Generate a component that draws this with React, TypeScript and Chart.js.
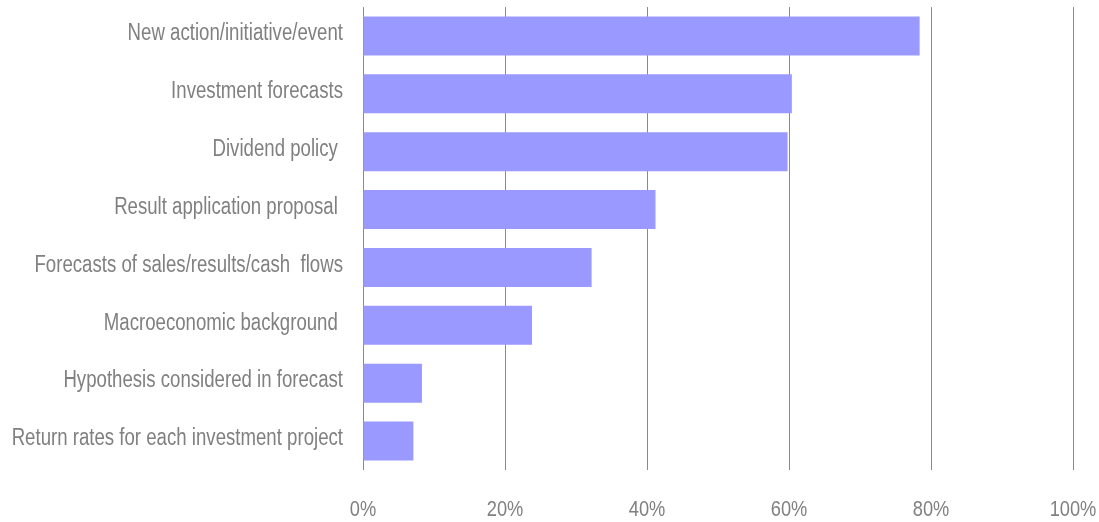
import React, { useEffect, useRef } from "react";
import { Chart, registerables } from "chart.js";

Chart.register(...registerables);

const categories = [
  "New action/initiative/event",
  "Investment forecasts",
  "Dividend policy ",
  "Result application proposal ",
  "Forecasts of sales/results/cash  flows",
  "Macroeconomic background ",
  "Hypothesis considered in forecast",
  "Return rates for each investment project",
];

const values = [78.4, 60.4, 59.8, 41.2, 32.2, 23.8, 8.3, 7.1];

const xTicks = [0, 20, 40, 60, 80, 100];
const xTickLabels = ["0%", "20%", "40%", "60%", "80%", "100%"];

const FONT = "'Liberation Sans', Arial, sans-serif";
const TEXT_COLOR = "#808080";

// Draws axis labels as condensed (narrow) text, like the reference's Arial Narrow look.
const condensedLabels = {
  id: "condensedLabels",
  afterDraw(chart: any) {
    const ctx = chart.ctx as CanvasRenderingContext2D;
    const ys = chart.scales.y;
    const xs = chart.scales.x;
    ctx.save();
    ctx.fillStyle = TEXT_COLOR;
    ctx.textBaseline = "alphabetic";

    ctx.font = `23px ${FONT}`;
    ctx.textAlign = "right";
    categories.forEach((label, i) => {
      const y = ys.getPixelForValue(i);
      ctx.save();
      ctx.translate(ys.right - 20, y + 4.3);
      ctx.scale(0.81, 1);
      ctx.fillText(label, 0, 0);
      ctx.restore();
    });

    ctx.font = `22px ${FONT}`;
    ctx.textAlign = "center";
    xTicks.forEach((v, i) => {
      const x = xs.getPixelForValue(v);
      ctx.save();
      ctx.translate(x, xs.top + 46);
      ctx.scale(0.83, 1);
      ctx.fillText(xTickLabels[i], 0, 0);
      ctx.restore();
    });
    ctx.restore();
  },
};

export default function App() {
  const ref = useRef<HTMLCanvasElement | null>(null);

  useEffect(() => {
    if (!ref.current) return;
    const chart = new Chart(ref.current, {
      type: "bar",
      data: {
        labels: categories,
        datasets: [
          {
            data: values,
            backgroundColor: "#9999ff",
            borderWidth: 0,
            barPercentage: 0.673,
            categoryPercentage: 1,
          },
        ],
      },
      options: {
        indexAxis: "y",
        responsive: false,
        animation: false,
        layout: { padding: { top: 7, right: 26, left: 0, bottom: 0 } },
        plugins: { legend: { display: false }, tooltip: { enabled: false } },
        scales: {
          x: {
            min: 0,
            max: 100,
            afterBuildTicks: (scale: any) => {
              scale.ticks = xTicks.map((v) => ({ value: v }));
            },
            afterFit: (scale: any) => {
              scale.height = 52;
              scale.paddingLeft = 0;
              scale.paddingRight = 0;
              scale.paddingTop = 0;
              scale.paddingBottom = 0;
            },
            grid: { color: "#8a8a8a", lineWidth: 1, drawTicks: false },
            border: { display: false },
            ticks: { display: false },
          },
          y: {
            afterFit: (scale: any) => {
              scale.width = 363;
              scale.paddingLeft = 0;
              scale.paddingRight = 0;
              scale.paddingTop = 0;
              scale.paddingBottom = 0;
            },
            grid: { display: false, drawTicks: false },
            border: { display: false },
            ticks: { display: false, autoSkip: false },
          },
        },
      },
      plugins: [condensedLabels],
    });
    return () => chart.destroy();
  }, []);

  return (
    <div style={{ position: "absolute", left: 0, top: 0, width: 1099, height: 522, background: "#fff" }}>
      <canvas ref={ref} width={1099} height={522} />
    </div>
  );
}
